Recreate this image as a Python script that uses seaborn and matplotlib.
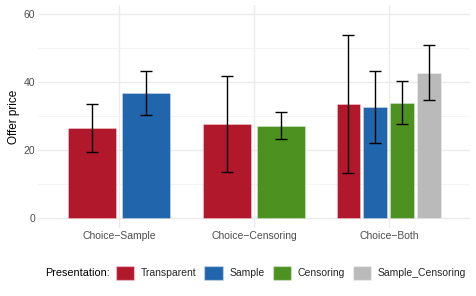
import pandas as pd
import matplotlib
matplotlib.use("Agg")
import matplotlib.pyplot as plt
import matplotlib.patches as mpatches
import seaborn as sns

# Data
conditions = ["Choice\u2212Sample", "Choice\u2212Sample",
              "Choice\u2212Censoring", "Choice\u2212Censoring",
              "Choice\u2212Both", "Choice\u2212Both", "Choice\u2212Both", "Choice\u2212Both"]
presentation = ["Transparent", "Sample",
                "Transparent", "Censoring",
                "Transparent", "Sample", "Censoring", "Sample_Censoring"]
offer_mean = [26.5, 36.8, 27.6, 27.0, 33.4, 32.5, 33.7, 42.7]
offer_low = [19.3, 30.1, 13.4, 23.1, 13.1, 22.0, 27.6, 34.6]
offer_high = [33.5, 43.3, 41.6, 31.1, 53.9, 43.1, 40.1, 50.9]

cond_order = ["Choice\u2212Sample", "Choice\u2212Censoring", "Choice\u2212Both"]
pres_order = ["Transparent", "Sample", "Censoring", "Sample_Censoring"]
colors = {"Transparent": "#B2182B", "Sample": "#2166AC",
          "Censoring": "#4D9221", "Sample_Censoring": "#BABABA"}

df = pd.DataFrame({"condition": conditions, "presentation": presentation,
                   "mean": offer_mean, "low": offer_low, "high": offer_high})

sns.set_theme(style="whitegrid")
plt.rcParams["font.family"] = ["Liberation Sans", "DejaVu Sans"]

fig = plt.figure(figsize=(4.76, 2.96), dpi=100)
ax = fig.add_axes([0.08, 0.23, 0.907, 0.752])

dodge_width = 0.8
for i, cond in enumerate(cond_order):
    sub = df[df["condition"] == cond]
    levels = [p for p in pres_order if p in set(sub["presentation"])]
    sns.barplot(data=sub, x="condition", y="mean", hue="presentation",
                order=cond_order, hue_order=levels, palette=colors,
                saturation=1, width=dodge_width, gap=0.12, errorbar=None,
                legend=False, edgecolor=(1, 1, 1, 0.35), linewidth=0.6, ax=ax)
    # error bars at the dodged bar centres
    k = len(levels)
    for j, lev in enumerate(levels):
        row = sub[sub["presentation"] == lev].iloc[0]
        xc = i + (j - (k - 1) / 2) * dodge_width / k
        ax.errorbar(xc, row["mean"],
                    yerr=[[row["mean"] - row["low"]], [row["high"] - row["mean"]]],
                    fmt="none", ecolor="black", elinewidth=1.0, capsize=4,
                    capthick=1.0, zorder=5)

ax.set_xlim(-0.6, 2.6)
ax.set_ylim(-3, 62.5)
ax.set_yticks([0, 20, 40, 60])
ax.set_yticks([10, 30, 50], minor=True)
ax.grid(which="major", axis="both", color="#EBEBEB", linewidth=1.0)
ax.grid(which="minor", axis="y", color="#F2F2F2", linewidth=0.6)
ax.set_axisbelow(True)
for s in ax.spines.values():
    s.set_visible(False)
ax.set_facecolor("white")
ax.set_xlabel("")
ax.set_ylabel("Offer price", fontsize=8.5, color="black", labelpad=3)
ax.tick_params(axis="both", which="both", length=0, labelsize=7.5,
               labelcolor="#4D4D4D", pad=2)

handles = [mpatches.Patch(facecolor=colors[p], edgecolor=(1, 1, 1, 0.35), label=p)
           for p in pres_order]
fig.text(45 / 476, 1 - 273 / 296, "Presentation:", fontsize=7.8,
         va="center", ha="left", color="black")
fig.legend(handles=handles, loc="center left",
           bbox_to_anchor=(116 / 476, 1 - 273 / 296), ncol=4, frameon=False,
           fontsize=7.5, handlelength=1.75, handleheight=1.75,
           handletextpad=0.65, columnspacing=0.75, borderpad=0, borderaxespad=0)

fig.savefig("out.png", dpi=100)
